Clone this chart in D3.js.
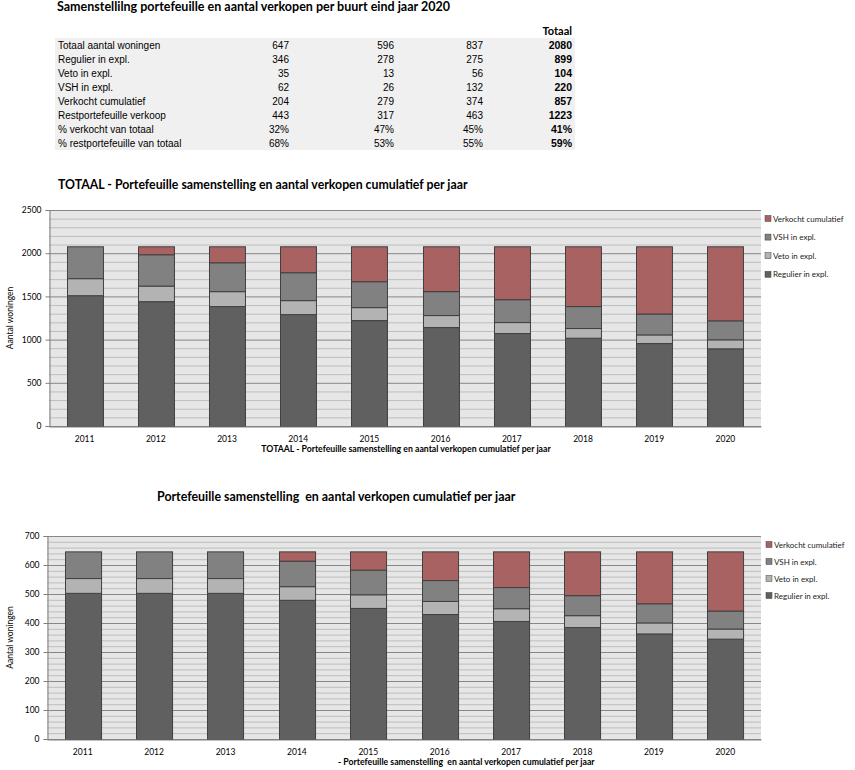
<!DOCTYPE html>
<html>
<head>
<meta charset="utf-8">
<script src="https://cdn.jsdelivr.net/npm/d3@7"></script>
<style>
  body { margin: 0; background: #fff; }
  text { font-family: Lato, "Liberation Sans", sans-serif; white-space: pre; }
</style>
</head>
<body>
<svg id="page" width="855" height="770"></svg>
<script>
// table data
const tableTitle = 'Samenstellilng portefeuille en aantal verkopen per buurt eind jaar 2020';
const tableRows = ['Totaal aantal woningen', 'Regulier in expl.', 'Veto in expl.', 'VSH in expl.',
    'Verkocht cumulatief', 'Restportefeuille verkoop', '% verkocht van totaal', '% restportefeuille van totaal'];
const tableCol1 = ['647', '346', '35', '62', '204', '443', '32%', '68%'];
const tableCol2 = ['596', '278', '13', '26', '279', '317', '47%', '53%'];
const tableCol3 = ['837', '275', '56', '132', '374', '463', '45%', '55%'];
const tableTotaal = ['2080', '899', '104', '220', '857', '1223', '41%', '59%'];

// chart data
const years = ['2011', '2012', '2013', '2014', '2015', '2016', '2017', '2018', '2019', '2020'];
const seriesNames = ['Regulier in expl.', 'Veto in expl.', 'VSH in expl.', 'Verkocht cumulatief'];
const seriesColors = ['#606060', '#b3b3b3', '#818181', '#a86262'];

const totaalRegulier = [1514, 1445, 1388, 1295, 1226, 1145, 1076, 1022, 960, 899];
const totaalVeto = [197, 180, 173, 162, 150, 139, 127, 112, 100, 104];
const totaalVSH = [369, 363, 334, 323, 300, 277, 265, 254, 242, 220];
const totaalVerkocht = [0, 92, 185, 300, 404, 519, 612, 692, 778, 857];

const buurtRegulier = [504, 504, 504, 480, 452, 431, 407, 386, 364, 346];
const buurtVeto = [51, 51, 51, 47, 47, 45, 44, 41, 38, 35];
const buurtVSH = [92, 92, 92, 88, 85, 72, 73, 69, 66, 62];
const buurtVerkocht = [0, 0, 0, 32, 63, 99, 123, 151, 179, 204];

const svg = d3.select('#page');

function drawTable() {
    const g = svg.append('g');
    g.append('text').attr('x', 57).attr('y', 11)
        .style('font-weight', 'bold').style('font-size', '12.5px')
        .text(tableTitle);
    g.append('rect').attr('x', 55).attr('y', 38).attr('width', 520).attr('height', 112)
        .attr('fill', '#f0f0f0');
    g.append('text').attr('x', 572).attr('y', 35).attr('text-anchor', 'end')
        .style('font-weight', 'bold').style('font-size', '11px').text('Totaal');
    const rowY = i => 49 + i * 14;
    const cols = [[tableCol1, 289], [tableCol2, 394], [tableCol3, 483]];
    tableRows.forEach((r, i) => {
        g.append('text').attr('x', 58).attr('y', rowY(i)).style('font-size', '10px')
            .style('font-family', '"Liberation Sans", sans-serif').text(r);
        cols.forEach(([col, x]) => {
            g.append('text').attr('x', x).attr('y', rowY(i)).attr('text-anchor', 'end')
                .style('font-size', '10px').style('font-family', '"Liberation Sans", sans-serif').text(col[i]);
        });
        g.append('text').attr('x', 572).attr('y', rowY(i)).attr('text-anchor', 'end')
            .style('font-size', '10.5px').style('font-weight', 'bold')
            .style('font-family', '"Liberation Sans", sans-serif').text(tableTotaal[i]);
    });
}

function drawChart(opt) {
    const g = svg.append('g');
    const x = d3.scaleBand().domain(years).range([opt.left, opt.right]).padding(0);
    const y = d3.scaleLinear().domain([0, opt.max]).range([opt.bottom, opt.top]);

    const rows = years.map((yr, i) => {
        const o = { year: yr };
        opt.series.forEach((s, k) => o[seriesNames[k]] = s[i]);
        return o;
    });
    const stacked = d3.stack().keys(seriesNames)(rows);

    // plot background + grid
    g.append('rect').attr('x', opt.left).attr('y', opt.top)
        .attr('width', opt.right - opt.left).attr('height', opt.bottom - opt.top)
        .attr('fill', '#e6e6e6');
    g.append('g').selectAll('line').data(d3.range(0, opt.max + 1, opt.minor))
        .join('line')
        .attr('x1', opt.left).attr('x2', opt.right)
        .attr('y1', d => y(d) + 0.5).attr('y2', d => y(d) + 0.5)
        .attr('stroke', d => d % opt.major === 0 ? '#878787' : '#bdbdbd')
        .attr('stroke-width', 1);

    // bars
    const bw = x.bandwidth() * 0.505;
    g.append('g').selectAll('g').data(stacked).join('g')
        .attr('fill', (d, i) => seriesColors[i])
        .selectAll('rect').data(d => d.filter(v => v[1] - v[0] > 0)).join('rect')
        .attr('x', d => Math.round(x(d.data.year) + (x.bandwidth() - bw) / 2) + 0.5)
        .attr('y', d => y(d[1]) + 0.5)
        .attr('width', bw)
        .attr('height', d => y(d[0]) - y(d[1]))
        .attr('stroke', '#404040').attr('stroke-width', 1);

    // axes
    const yAxis = d3.axisLeft(y).tickValues(d3.range(0, opt.max + 1, opt.major))
        .tickFormat(d3.format('d')).tickSize(4).tickPadding(4);
    const ya = g.append('g').attr('transform', `translate(${opt.left + 0.5},0)`).call(yAxis);
    ya.select('.domain').attr('stroke', '#808080');
    ya.selectAll('.tick line').attr('stroke', '#808080');
    ya.selectAll('text').style('font-size', '8.5px').attr('fill', '#000');

    const xAxis = d3.axisBottom(x).tickSize(0).tickPadding(9);
    const xa = g.append('g').attr('transform', `translate(0,${opt.bottom + 0.5})`).call(xAxis);
    xa.select('.domain').attr('stroke', '#808080');
    xa.selectAll('text').style('font-size', '8.5px').attr('fill', '#000');

    // titles
    g.append('text').attr('x', opt.titleX).attr('y', opt.titleY)
        .style('font-weight', 'bold').style('font-size', opt.titleSize).text(opt.title);
    g.append('text').attr('x', opt.subX).attr('y', opt.subY).attr('text-anchor', opt.subAnchor)
        .style('font-weight', 'bold').style('font-size', '8.7px').text(opt.subtitle);
    g.append('text')
        .attr('transform', `translate(13,${(opt.top + opt.bottom) / 2}) rotate(-90)`)
        .attr('text-anchor', 'middle').style('font-size', '8.5px').text('Aantal woningen');

    // legend (reverse order)
    const leg = g.append('g');
    seriesNames.slice().reverse().forEach((name, i) => {
        const k = seriesNames.length - 1 - i;
        const ly = opt.legendY + i * opt.legendStep;
        leg.append('rect').attr('x', opt.legendX).attr('y', ly - 3.5).attr('width', 6).attr('height', 6)
            .attr('fill', seriesColors[k]).attr('stroke', '#404040').attr('stroke-width', 0.5);
        leg.append('text').attr('x', opt.legendX + 8).attr('y', ly + 2.5)
            .style('font-size', '8px').attr('fill', '#222').text(name);
    });
}

drawTable();

drawChart({
    series: [totaalRegulier, totaalVeto, totaalVSH, totaalVerkocht],
    max: 2500, major: 500, minor: 100,
    left: 49, right: 761, top: 210, bottom: 426,
    title: 'TOTAAL - Portefeuille samenstelling en aantal verkopen cumulatief per jaar',
    titleX: 58, titleY: 189, titleSize: '12.3px',
    subtitle: 'TOTAAL - Portefeuille samenstelling en aantal verkopen cumulatief per jaar',
    subX: 406, subY: 452, subAnchor: 'middle',
    legendX: 765, legendY: 219, legendStep: 18.6
});

drawChart({
    series: [buurtRegulier, buurtVeto, buurtVSH, buurtVerkocht],
    max: 700, major: 100, minor: 20,
    left: 47, right: 761, top: 536, bottom: 739,
    title: 'Portefeuille samenstelling  en aantal verkopen cumulatief per jaar',
    titleX: 157, titleY: 501, titleSize: '12.4px',
    subtitle: '- Portefeuille samenstelling  en aantal verkopen cumulatief per jaar',
    subX: 338, subY: 765, subAnchor: 'start',
    legendX: 766, legendY: 545, legendStep: 17
});
</script>
</body>
</html>
